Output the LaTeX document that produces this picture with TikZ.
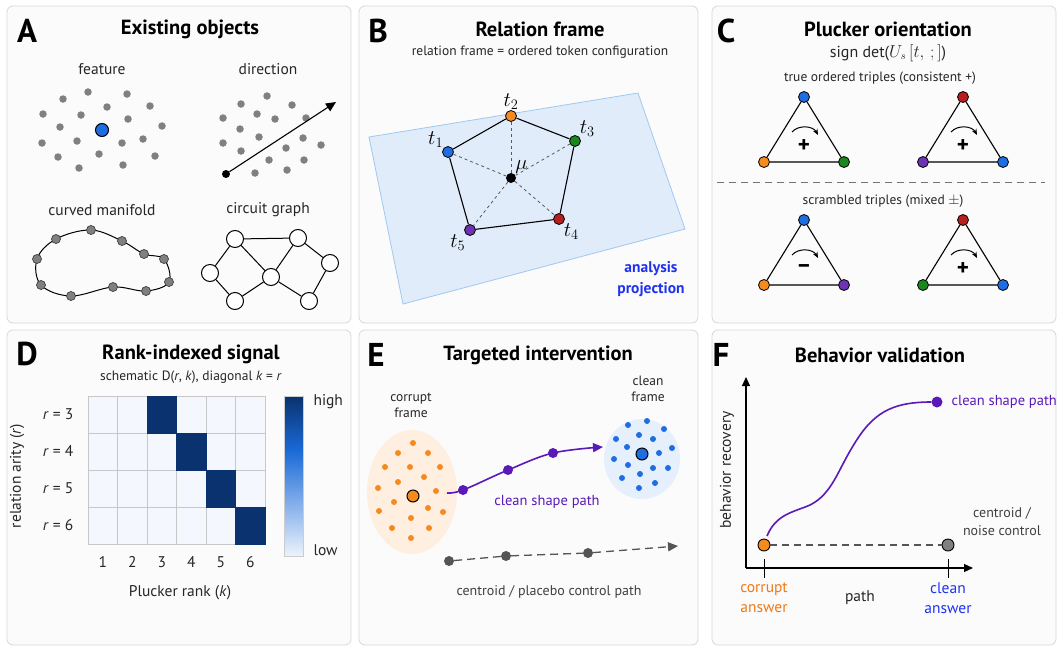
\documentclass[tikz,border=0pt]{standalone}
\usepackage{fontspec}
\setmainfont{PT Sans}
\usepackage{tikz}
\usetikzlibrary{arrows.meta,positioning,shapes.geometric}
\definecolor{tkorange}{RGB}{245,138,31}
\definecolor{tkblue}{RGB}{30,110,225}
\definecolor{tkgreen}{RGB}{25,135,30}
\definecolor{tkred}{RGB}{185,30,30}
\definecolor{tkpurple}{RGB}{110,50,180}
\definecolor{pathpurple}{RGB}{90,25,185}
\definecolor{navy}{RGB}{10,50,110}
\definecolor{panelgray}{RGB}{251,251,251}
\definecolor{panelline}{RGB}{215,215,215}
\definecolor{dotgray}{RGB}{128,128,128}
\definecolor{ctrlgray}{RGB}{85,85,85}
\definecolor{planeblue}{RGB}{224,236,250}
\definecolor{planeedge}{RGB}{160,200,240}
\definecolor{labelblue}{RGB}{30,50,240}
\definecolor{cellwhite}{RGB}{244,247,253}
\definecolor{cbarmid}{RGB}{25,105,215}
\definecolor{cbarlow}{RGB}{236,243,252}
\definecolor{answerorange}{RGB}{240,120,20}

\begin{document}
\begin{tikzpicture}[x=1pt, y=-1pt,
    panel/.style={draw=panelline, fill=panelgray, rounded corners=6pt, line width=0.8pt},
    letter/.style={font=\fontsize{33}{33}\selectfont\bfseries},
    ptitle/.style={font=\fontsize{20.5}{22}\selectfont\bfseries},
    sub/.style={font=\fontsize{13.5}{16}\selectfont, text=black!85},
    lab/.style={font=\fontsize{15.5}{20}\selectfont, text=black!85, align=center},
    gdot/.style={circle, fill=dotgray, inner sep=0pt, minimum size=7.5pt},
    tok/.style={circle, draw=black, line width=0.8pt, inner sep=0pt, minimum size=11pt},
    mdot/.style={circle, draw=black!75, fill=dotgray, line width=0.7pt, inner sep=0pt, minimum size=9pt},
    gnode/.style={circle, draw=black, fill=white, line width=1pt, inner sep=0pt, minimum size=17pt},
    tlab/.style={font=\fontsize{21}{21}\selectfont, inner sep=0.5pt},
    edot/.style={circle, inner sep=0pt, minimum size=6pt},
    pdot/.style={circle, fill=pathpurple, inner sep=0pt, minimum size=10pt},
    cdot/.style={circle, fill=ctrlgray, inner sep=0pt, minimum size=10pt},
    sgn/.style={font=\fontsize{23}{23}\selectfont\bfseries},
    pathline/.style={draw=pathpurple, line width=1.6pt},
  ]
\useasboundingbox (0,0) rectangle (1063,651);

% panels
\foreach \xa/\ya/\xb/\yb in {7/6/351/323, 359/6/698/323, 712/6/1056/323,
                             7/330/351/645, 359/330/698/645, 712/330/1056/645}
  \draw[panel] (\xa,\ya) rectangle (\xb,\yb);

% ---------- A: existing objects
\node[letter] (la) at (27,31) {A};
\node[ptitle] (ta) at (190,29) {Existing objects};
\node[lab] (feat) at (102,69) {feature};
\node[lab] (dirn) at (268,69) {direction};
\node[lab] (manif) at (102,210) {curved manifold};
\node[lab] (circ) at (268,210) {circuit graph};

\foreach \x/\y [count=\i] in {88/92,127/94,63/99,107/107,150/106,43/114,81/115,128/119,60/127,162/126,
                              42/143,77/141,122/143,143/139,99/154,58/157,155/156,79/168,123/165}
  \node[gdot] (fd\i) at (\x,\y) {};
\node[circle, draw=black, fill=tkblue, line width=1pt, inner sep=0pt, minimum size=13pt] (feature) at (102,130) {};

\foreach \x/\y [count=\i] in {267/96,241/104,292/105,223/118,257/114,275/119,306/118,240/129,259/137,
                              223/143,241/151,286/148,303/138,321/145,269/160,304/160,255/173,287/170}
  \node[gdot] (dd\i) at (\x,\y) {};
\node[circle, fill=black, inner sep=0pt, minimum size=8pt] (dstart) at (226,174) {};
\coordinate (dend) at (336,102);
\draw[-{Triangle[length=10pt,width=9pt]}, line width=1.1pt] (dstart) -- (dend);

% manifold
\foreach \x/\y [count=\i] in {56/239,91/230,122/241,144/254,164/259,169/282,146/291,113/287,71/296,41/285,37/259}
  \coordinate (m\i) at (\x,\y);
\draw[line width=1pt] plot[smooth cycle, tension=0.6] coordinates {(m1) (m2) (m3) (m4) (m5) (m6) (m7) (m8) (m9) (m10) (m11)};
\foreach \i in {1,...,11}
  \node[mdot] (md\i) at (m\i) {};

% circuit graph
\node[gnode] (g1) at (235,239) {};
\node[gnode] (g2) at (298,238) {};
\node[gnode] (g3) at (210,273) {};
\node[gnode] (g4) at (330,263) {};
\node[gnode] (g5) at (271,277) {};
\node[gnode] (g6) at (235,301) {};
\node[gnode] (g7) at (309,301) {};
\foreach \a/\b in {g1/g2, g1/g3, g1/g5, g2/g5, g2/g4, g3/g6, g5/g6, g5/g7, g4/g7}
  \draw[line width=1pt] (\a) -- (\b);

% ---------- B: relation frame
\node[letter] (lb) at (378,31) {B};
\node[ptitle] (tb) at (540,29) {Relation frame};
\node[sub] (sb) at (540,52) {relation frame = ordered token configuration};
\draw[draw=planeedge, fill=planeblue, line width=0.8pt] (369,137) -- (638,93) -- (685,229) -- (403,304) -- cycle;
\node[tok, fill=tkblue, label={[tlab]above left:$t_1$}] (t1) at (448,152) {};
\node[tok, fill=tkorange, label={[tlab]above:$t_2$}] (t2) at (511,116) {};
\node[tok, fill=tkgreen, label={[tlab]above right:$t_3$}] (t3) at (575,141) {};
\node[tok, fill=tkred, label={[tlab]below right:$t_4$}] (t4) at (559,219) {};
\node[tok, fill=tkpurple, label={[tlab]below left:$t_5$}] (t5) at (470,230) {};
\node[circle, fill=black, inner sep=0pt, minimum size=10pt, label={[tlab]above right:$\mu$}] (mu) at (511,178) {};
\foreach \a/\b in {t1/t2, t2/t3, t3/t4, t4/t5, t5/t1}
  \draw[line width=1.1pt] (\a) -- (\b);
\foreach \t in {t1,t2,t3,t4,t5}
  \draw[dashed, black!65, line width=0.8pt] (mu) -- (\t);
\node[font=\fontsize{15.5}{21}\selectfont\bfseries, text=labelblue, align=center] (proj) at (651,279) {analysis\\projection};

% ---------- C: Plucker orientation
\node[letter] (lc) at (726,31) {C};
\node[ptitle] (tc) at (888,29) {Plucker orientation};
\node[font=\fontsize{16}{18}\selectfont, text=black!85] (sc) at (888,53) {sign det($U_s\,[t,\,;]$)};
\node[sub] (truelab) at (880,78) {true ordered triples (consistent +)};
\node[sub] (scrlab) at (883,201) {scrambled triples (mixed $\pm$)};
\coordinate (divL) at (717,182);
\coordinate (divR) at (1045,182);
\draw[black!55, line width=0.9pt, dash pattern=on 7pt off 5pt] (divL) -- (divR);

\foreach \i/\cx/\cy/\ca/\cb/\cc/\s in {1/804/97/tkblue/tkorange/tkgreen/+, 2/963/97/tkred/tkpurple/tkblue/+,
                                       3/804/220/tkblue/tkorange/tkpurple/\textendash, 4/963/220/tkred/tkgreen/tkblue/+} {
  \node[tok, fill=\ca] (a\i) at (\cx,\cy) {};
  \node[tok, fill=\cb] (b\i) at (\cx-40,\cy+65) {};
  \node[tok, fill=\cc] (c\i) at (\cx+40,\cy+65) {};
  \draw[line width=1.1pt] (a\i) -- (b\i) -- (c\i) -- (a\i);
  \coordinate (arcL\i) at (\cx-12,\cy+35);
  \coordinate (arcR\i) at (\cx+14,\cy+38);
  \draw[-{Stealth[length=6pt,width=5pt]}, line width=1pt] (arcL\i) to[bend left=55] (arcR\i);
  \node[sgn] (s\i) at (\cx,\cy+49) {\s};
}

% ---------- D: rank-indexed signal
\node[letter] (ld) at (27,354) {D};
\node[ptitle] (td) at (191,354) {Rank-indexed signal};
\node[sub] (sd) at (191,377) {schematic D(\textit{r}, \textit{k}), diagonal \textit{k} = \textit{r}};
\foreach \r in {0,...,3}
  \foreach \c in {0,...,5}
    \draw[fill=cellwhite, draw=black!22, line width=0.6pt] (88+\c*29.5,396+\r*37) rectangle ++(29.5,37);
\foreach \r in {0,...,3}
  \draw[fill=navy, draw=navy] (88+\r*29.5+59,396+\r*37) rectangle ++(29.5,37);
\foreach \r/\v in {0/3,1/4,2/5,3/6}
  \node[lab] (rl\v) at (58,414+\r*37) {\textit{r} = \v};
\foreach \c in {1,...,6}
  \node[lab] (kl\c) at (73.25+\c*29.5,562) {\c};
\node[lab] (klab) at (180,593) {Plucker rank (\textit{k})};
\node[lab, rotate=90] (rlab) at (17,476) {relation arity (\textit{r})};
% colour bar
\shade[top color=navy, bottom color=cbarmid] (284,396) rectangle (303,450);
\shade[top color=cbarmid, bottom color=cbarlow] (284,450) rectangle (303,556);
\draw[black!20, line width=0.6pt] (284,396) rectangle (303,556);
\node[lab, anchor=west] (hi) at (310,402) {high};
\node[lab, anchor=west] (lo) at (310,550) {low};

% ---------- E: targeted intervention
\node[letter] (le) at (376,355) {E};
\node[ptitle] (te) at (538,355) {Targeted intervention};
\node[ellipse, fill=tkorange!14, minimum width=90pt, minimum height=124pt] (corrupt) at (412,492) {};
\node[ellipse, fill=tkblue!11, minimum width=76pt, minimum height=80pt] (clean) at (642,459) {};
\node[font=\fontsize{13.5}{16}\selectfont, text=black!85, align=center] (corlab) at (411,405) {corrupt\\frame};
\node[font=\fontsize{13.5}{16}\selectfont, text=black!85, align=center] (clnlab) at (648,389) {clean\\frame};
\foreach \x/\y [count=\i] in {413/443,398/453,428/453,385/467,410/467,440/467,398/482,424/477,378/488,
                              436/491,394/502,428/508,379/511,443/512,411/518,392/528,429/528,411/538}
  \node[edot, fill=tkorange] (od\i) at (\x,\y) {};
\foreach \x/\y [count=\i] in {647/421,628/425,664/429,616/439,639/435,653/439,672/448,627/447,614/459,
                              659/453,628/465,653/468,668/468,640/474,622/478,655/483,639/488}
  \node[edot, fill=tkblue] (bd\i) at (\x,\y) {};
\node[circle, draw=black, fill=tkorange, line width=1pt, inner sep=0pt, minimum size=12pt] (ocen) at (413,496) {};
\node[circle, draw=black, fill=tkblue, line width=1pt, inner sep=0pt, minimum size=12pt] (bcen) at (642,454) {};

% clean shape path
\coordinate (pstart) at (447,493);
\coordinate (pend) at (603,447);
\node[pdot] (p1) at (463,490) {};
\node[pdot] (p2) at (508,470) {};
\node[pdot] (p3) at (553,453) {};
\draw[pathline, -{Triangle[length=10pt,width=9pt]}] plot[smooth, tension=0.6] coordinates {(pstart) (p1) (p2) (p3) (pend)};
\node[font=\fontsize{14.5}{16}\selectfont, text=pathpurple] (plab) at (547,502) {clean shape path};

% control path
\node[cdot] (q1) at (449,561) {};
\node[cdot] (q2) at (506,556) {};
\node[cdot] (q3) at (588,553) {};
\coordinate (qend) at (678,546);
\draw[ctrlgray, line width=1.3pt, dash pattern=on 8pt off 5pt] (q1) -- (q2) -- (q3);
\draw[ctrlgray, line width=1.3pt, dash pattern=on 8pt off 5pt, -{Triangle[length=10pt,width=9pt]}] (q3) -- (qend);
\node[font=\fontsize{14}{16}\selectfont, text=black!75] (qlab) at (549,592) {centroid / placebo control path};

% ---------- F: behavior validation
\node[letter] (lf) at (721,355) {F};
\node[ptitle] (tf) at (880,355) {Behavior validation};
\coordinate (origin) at (746,568);
\coordinate (ytop) at (746,377);
\coordinate (xend) at (973,568);
\draw[line width=1.1pt, -{Triangle[length=9pt,width=8pt]}] (origin) -- (ytop);
\draw[line width=1.1pt, -{Triangle[length=9pt,width=8pt]}] (origin) -- (xend);
\coordinate (tk1a) at (764,559);
\coordinate (tk1b) at (764,578);
\coordinate (tk2a) at (948,559);
\coordinate (tk2b) at (948,578);
\draw[line width=1pt] (tk1a) -- (tk1b);
\draw[line width=1pt] (tk2a) -- (tk2b);
\node[circle, draw=black, fill=tkorange, line width=0.9pt, inner sep=0pt, minimum size=12pt] (corans) at (764,545) {};
\node[circle, draw=black, fill=dotgray, line width=0.9pt, inner sep=0pt, minimum size=12pt] (ctrl) at (948,545) {};
\draw[ctrlgray, line width=1.2pt, dash pattern=on 7pt off 5pt] (corans) -- (ctrl);
\node[circle, fill=pathpurple, inner sep=0pt, minimum size=11pt] (clnpt) at (937,402) {};
\coordinate (cstart) at (767,536);
\draw[pathline] (cstart) .. controls (776,514) and (794,512) .. (810,505)
                         .. controls (832,494) and (838,470) .. (853,446)
                         .. controls (872,414) and (890,402) .. (clnpt);
\node[font=\fontsize{14.5}{16}\selectfont, text=pathpurple, anchor=west] (flab) at (948,402) {clean shape path};
\node[font=\fontsize{14}{18}\selectfont, text=black!75, align=center] (nlab) at (1002,522) {centroid /\\noise control};
\node[lab, text=answerorange] (calab) at (764,598) {corrupt\\answer};
\node[lab] (pathlab) at (860,598) {path};
\node[lab, text=labelblue] (clab) at (948,598) {clean\\answer};
\node[lab, rotate=90] (brlab) at (727,470) {behavior recovery};

\end{tikzpicture}
\end{document}
